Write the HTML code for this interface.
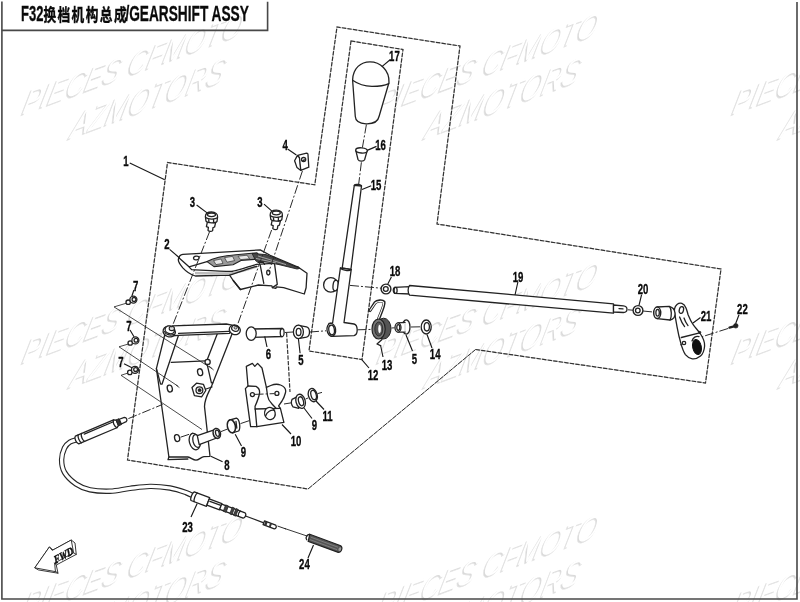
<!DOCTYPE html>
<html lang="zh">
<head>
<meta charset="utf-8">
<title>F32 GEARSHIFT ASSY</title>
<style>
html,body{margin:0;padding:0;background:#fff;}
body{width:800px;height:602px;overflow:hidden;font-family:"Liberation Sans","Noto Sans CJK SC",sans-serif;}
svg{display:block;filter:blur(0.45px);}
.o{fill:none;stroke:#222;stroke-width:1.3;stroke-linejoin:round;stroke-linecap:round;}
.w{fill:#fff;stroke:#222;stroke-width:1.3;stroke-linejoin:round;stroke-linecap:round;}
.t{fill:none;stroke:#2a2a2a;stroke-width:0.85;}
.d{fill:none;stroke:#333;stroke-width:1.2;stroke-dasharray:4.3 1.3;}
.du{fill:none;stroke:#c4c4c4;stroke-width:1;}
.c{fill:none;stroke:#2a2a2a;stroke-width:1;stroke-dasharray:9 2 2 2;}
.l{fill:none;stroke:#1a1a1a;stroke-width:1.15;}
.k{fill:#222;stroke:#222;stroke-width:0.6;}
.n text{font-family:"Liberation Sans",sans-serif;font-weight:bold;font-size:15.5px;fill:#0a0a0a;text-anchor:middle;stroke:#0a0a0a;stroke-width:0.35;}
.wm text{font-family:"Liberation Sans",sans-serif;font-style:italic;fill:#fff;}
.wm text.s{fill:#dadada;stroke:#e6e6e6;stroke-width:0.6;}
</style>
</head>
<body>
<svg width="800" height="602" viewBox="0 0 800 602">
<rect x="0" y="0" width="800" height="602" fill="#fff"/>

<!-- watermarks -->
<g class="wm" id="wm">
<g transform="translate(20,116) skewY(-20) skewX(-16) scale(0.867,1)" style="font-size:30.7px"><text class="s">PIECES CFMOTO</text><text x="1.4" y="-1">PIECES CFMOTO</text></g>
<g transform="translate(68,140) skewY(-20.5) skewX(-16) scale(0.825,1)" style="font-size:33px"><text class="s">AZMOTORS</text><text x="1.4" y="-1">AZMOTORS</text></g>
<g transform="translate(375,116) skewY(-20) skewX(-16) scale(0.867,1)" style="font-size:30.7px"><text class="s">PIECES CFMOTO</text><text x="1.4" y="-1">PIECES CFMOTO</text></g>
<g transform="translate(423,140) skewY(-20.5) skewX(-16) scale(0.825,1)" style="font-size:33px"><text class="s">AZMOTORS</text><text x="1.4" y="-1">AZMOTORS</text></g>
<g transform="translate(730,116) skewY(-20) skewX(-16) scale(0.867,1)" style="font-size:30.7px"><text class="s">PIECES CFMOTO</text><text x="1.4" y="-1">PIECES CFMOTO</text></g>
<g transform="translate(778,140) skewY(-20.5) skewX(-16) scale(0.825,1)" style="font-size:33px"><text class="s">AZMOTORS</text><text x="1.4" y="-1">AZMOTORS</text></g>
<g transform="translate(20,365) skewY(-20) skewX(-16) scale(0.867,1)" style="font-size:30.7px"><text class="s">PIECES CFMOTO</text><text x="1.4" y="-1">PIECES CFMOTO</text></g>
<g transform="translate(68,389) skewY(-20.5) skewX(-16) scale(0.825,1)" style="font-size:33px"><text class="s">AZMOTORS</text><text x="1.4" y="-1">AZMOTORS</text></g>
<g transform="translate(375,365) skewY(-20) skewX(-16) scale(0.867,1)" style="font-size:30.7px"><text class="s">PIECES CFMOTO</text><text x="1.4" y="-1">PIECES CFMOTO</text></g>
<g transform="translate(423,389) skewY(-20.5) skewX(-16) scale(0.825,1)" style="font-size:33px"><text class="s">AZMOTORS</text><text x="1.4" y="-1">AZMOTORS</text></g>
<g transform="translate(730,365) skewY(-20) skewX(-16) scale(0.867,1)" style="font-size:30.7px"><text class="s">PIECES CFMOTO</text><text x="1.4" y="-1">PIECES CFMOTO</text></g>
<g transform="translate(778,389) skewY(-20.5) skewX(-16) scale(0.825,1)" style="font-size:33px"><text class="s">AZMOTORS</text><text x="1.4" y="-1">AZMOTORS</text></g>
<g transform="translate(20,618) skewY(-20) skewX(-16) scale(0.867,1)" style="font-size:30.7px"><text class="s">PIECES CFMOTO</text><text x="1.4" y="-1">PIECES CFMOTO</text></g>
<g transform="translate(68,642) skewY(-20.5) skewX(-16) scale(0.825,1)" style="font-size:33px"><text class="s">AZMOTORS</text><text x="1.4" y="-1">AZMOTORS</text></g>
<g transform="translate(375,618) skewY(-20) skewX(-16) scale(0.867,1)" style="font-size:30.7px"><text class="s">PIECES CFMOTO</text><text x="1.4" y="-1">PIECES CFMOTO</text></g>
<g transform="translate(423,642) skewY(-20.5) skewX(-16) scale(0.825,1)" style="font-size:33px"><text class="s">AZMOTORS</text><text x="1.4" y="-1">AZMOTORS</text></g>
<g transform="translate(730,618) skewY(-20) skewX(-16) scale(0.867,1)" style="font-size:30.7px"><text class="s">PIECES CFMOTO</text><text x="1.4" y="-1">PIECES CFMOTO</text></g>
<g transform="translate(778,642) skewY(-20.5) skewX(-16) scale(0.825,1)" style="font-size:33px"><text class="s">AZMOTORS</text><text x="1.4" y="-1">AZMOTORS</text></g>
</g>

<!-- frame -->
<g id="frame" fill="none" stroke="#484848" stroke-width="1.6">
<path d="M1.9 1.5V599H797V2"/>
<path d="M1.9 30.4H267.6V1.7"/>
</g>

<!-- title -->
<g id="title" fill="#0a0a0a" font-weight="bold" stroke="#0a0a0a" stroke-width="0.3">
<text x="21" y="21.4" font-size="22.5" textLength="22.4" lengthAdjust="spacingAndGlyphs" font-family="Liberation Sans, sans-serif">F32</text>
<text transform="translate(43.4,20.8) scale(0.72,1)" font-size="17.6" letter-spacing="2" stroke="#0a0a0a" stroke-width="0.4" font-family="Noto Sans CJK SC, sans-serif">换档机构总成</text>
<text x="125.4" y="21.4" font-size="22.5" textLength="123.4" lengthAdjust="spacingAndGlyphs" font-family="Liberation Sans, sans-serif">/GEARSHIFT ASSY</text>
</g>

<!-- dashed group boundaries -->
<g id="bounds">
<path class="du" d="M475.6 349.5L705.5 383L721 269L437 224L460 46L337 27L314.8 184.8L167.5 162.5L127.5 460L308 489L475.6 349.5M351 41L403 49.5L362 359.6L309 351Z"/>
<path class="d" d="M475.6 349.5L705.5 383L721 269L437 224L460 46L337 27L314.8 184.8L167.5 162.5L127.5 460L308 489"/>
<path class="d" style="stroke-dasharray:5.2 0.9;stroke-width:1" d="M308 489L475.6 349.5"/>
<path class="d" d="M351 41L403 49.5L362 359.6L309 351Z"/>
</g>

<!-- PARTS -->
<g id="parts">

<!-- knob 17 -->
<path class="w" d="M352.6 80C353 68 361 61.8 370 61.8C380 61.8 389.5 70 389 82.5L379.2 116C378 122 372 124 366 123.8C360 123.5 355.5 121 355.3 116.5Z"/>
<path class="o" d="M352.6 80.2C358 84 366 86.2 372 86.4C379 86.4 385 85.4 388.8 83.6"/>
<path class="c" d="M366.4 124.6L362.4 147.7M361.4 162.3L358.7 184"/>
<!-- cap 16 -->
<path class="w" d="M355.8 150.3L358 159.5C359 161.6 363.6 161.8 364.6 159.8L367.2 150.6Z"/>
<ellipse class="w" cx="361.5" cy="150.4" rx="5.8" ry="2.6" transform="rotate(4 361.5 150.4)"/>
<!-- rod 15 -->
<path class="w" d="M354.3 185.3L361.5 186L350.9 269.5L342.2 268Z"/>
<path class="o" d="M354.3 185.3C355 183.6 361 184.2 361.5 186"/>
<!-- lever 12 -->
<circle class="w" cx="330.8" cy="284.9" r="7.2"/>
<ellipse class="w" cx="335.6" cy="285.6" rx="2.6" ry="5.2" transform="rotate(6 335.6 285.6)"/>
<path class="w" d="M340.4 268L351.2 269.6L344 322.5L354 324C358 325 358.5 334.5 354 335.6L331.3 336.4L329 323.4L332.6 323Z"/>
<path class="o" d="M340.4 268C342 270.5 349.5 271.5 351.2 269.6"/>
<ellipse class="w" cx="331.3" cy="329.8" rx="4.3" ry="6.5" transform="rotate(-8 331.3 329.8)"/>
<ellipse class="o" cx="331.6" cy="330" rx="2.8" ry="4.8" transform="rotate(-8 331.6 330)"/>
<path class="c" d="M350 285.4L381 288.2"/>
<!-- nut 18 -->
<circle class="w" cx="386" cy="289" r="4.9" style="stroke-width:1.4"/>
<circle class="o" cx="385.8" cy="289" r="2.4"/>
<!-- rod 19 -->
<path class="w" d="M394.5 287.4L410 286.6L410 294L394.5 293.4C392.8 292 392.8 288.6 394.5 287.4Z"/>
<ellipse class="o" cx="395.6" cy="290.4" rx="1.5" ry="3" />
<path class="w" d="M409.6 285.5L613.5 303.8L613.5 313.2L409.6 295.2C407.6 293 407.6 287.6 409.6 285.5Z"/>
<path class="w" d="M613.5 305L623.4 305.8C625.4 306 627 307.6 627 309.2C627 311 625.4 312.4 623.4 312.5L613.5 312Z"/>
<path class="o" d="M619 308.6L623 308.9"/>
<path class="c" d="M628 309.8L633 310.2M643 311L653 312"/>
<!-- nut 20 -->
<circle class="w" cx="638" cy="310.5" r="4.9" style="stroke-width:1.4"/>
<circle class="o" cx="637.8" cy="310.5" r="2.3"/>

<!-- spring 13 -->
<path class="o" style="stroke-width:3.2" d="M370 310.5L375 302.8C377 300.6 382.5 300.2 384 302C385 304 381 313 378.5 319"/>
<path style="fill:none;stroke:#fff;stroke-width:1.1;stroke-linecap:round" d="M370.3 310.2L375.3 303C377 301.2 382 300.8 383.6 302.4C384.4 304 380.6 313 378.2 319"/>
<ellipse cx="383.6" cy="328.6" rx="7.4" ry="10.4" fill="#555" stroke="#222" stroke-width="1"/>
<ellipse cx="378.6" cy="329" rx="6.6" ry="10" fill="#777" stroke="#222" stroke-width="1.2"/>
<ellipse cx="378.8" cy="329" rx="4" ry="7" fill="#555" stroke="#222" stroke-width="0.8"/>
<ellipse cx="379.6" cy="329" rx="1.8" ry="4.4" fill="#fff" stroke="#333" stroke-width="0.6"/>
<path class="o" d="M382 339.5L377 344L380.6 345.6"/>
<path class="c" d="M357.5 329.8L372 329.4M391.5 328L394.5 327.8M411 327L421 326.8"/>
<!-- bushing 5 right -->
<ellipse class="w" cx="406.2" cy="327" rx="3.8" ry="7.2"/>
<path class="w" d="M398 322.9L405 322.3L405 332.2L398 332.1Z"/>
<path d="M405 322.9L405 331.6" stroke="#fff" stroke-width="1.6" fill="none"/>
<ellipse class="w" cx="398" cy="327.5" rx="3" ry="4.6"/>
<ellipse class="o" cx="398.3" cy="327.5" rx="1.5" ry="2.8"/>
<!-- washer 14 -->
<ellipse class="w" cx="426.2" cy="327" rx="5" ry="7"/>
<ellipse class="o" cx="426.8" cy="326.8" rx="2.6" ry="4.2"/>
<!-- pin 6 -->
<path class="w" d="M252 329L282.8 328.5C284.6 329.5 284.6 335.5 282.8 336.5L252 337.4Z"/>
<path class="o" d="M281.4 328.5C279.8 330 279.8 335.4 281.4 336.6"/>
<ellipse class="w" cx="251.2" cy="333.6" rx="5" ry="6.7"/>
<path class="c" d="M285 332.5L293 332M310 332L326 330.8"/>
<path class="d" d="M286.6 333L290 392"/>
<!-- bushing 5 left -->
<path class="w" d="M298.4 325.3L306.5 326.8C310.5 328 310.5 336 306.5 337.2L298.4 338.6Z"/>
<ellipse class="w" cx="298.4" cy="331.9" rx="5" ry="6.7"/>
<ellipse class="o" cx="298.6" cy="331.9" rx="2.4" ry="3.6"/>
<!-- bracket 8 -->
<path class="w" d="M165.2 333L156.4 368.7L160.6 384.2L162 384.2L179.6 332"/>
<path class="w" d="M218 332L206.5 361.6L211.4 382.8L212.9 382.8L232.8 332"/>
<path class="o" d="M171.2 362.3L205.8 360.9"/>
<path class="o" d="M156.4 368.7L168.9 457L187.9 457C191 457.5 193 460.2 196 460.2C199 460.2 201 457 204 456.6L210 456.3L204.5 406.6C204.6 398 209 392 211.6 386L212.9 382.8"/>
<path class="o" d="M168.9 457L168 459.6L187.9 459"/>
<circle class="w" cx="207.6" cy="361.9" r="2.6"/>
<ellipse class="o" cx="200.1" cy="372.2" rx="2.5" ry="3.5" transform="rotate(-15 200.1 372.2)"/>
<ellipse class="o" cx="169.8" cy="388.6" rx="2.5" ry="3.5" transform="rotate(-15 169.8 388.6)"/>
<ellipse class="o" cx="177.1" cy="438.1" rx="2.5" ry="3.5" transform="rotate(-15 177.1 438.1)"/>
<path class="w" d="M192 387.5L196.5 383.2L203.5 384.4L205.8 390.5L201.6 396.8L194.4 395.6Z"/>
<circle class="o" cx="199.4" cy="390.2" r="3.4"/>
<circle class="k" cx="199.6" cy="390.2" r="1.6"/>
<path class="o" d="M206 389L212 387"/>
<!-- shaft on bracket -->
<ellipse class="w" cx="194.6" cy="441.6" rx="5.2" ry="8.4" transform="rotate(-15 194.6 441.6)"/>
<ellipse class="w" cx="196.6" cy="441" rx="3.6" ry="6.6" transform="rotate(-15 196.6 441)"/>
<path class="w" d="M197.3 435.6L216.3 429.2L218 437.5L199.2 444.6Z"/>
<ellipse class="w" cx="216.8" cy="433.4" rx="3.6" ry="5" transform="rotate(-15 216.8 433.4)" style="stroke-width:1.6"/>
<ellipse class="o" cx="217.4" cy="433.3" rx="1.8" ry="3.2" transform="rotate(-15 217.4 433.3)"/>
<path class="c" d="M180.5 437.2L193 433M221 431.6L227.5 429M240.5 423.6L250 420.4"/>
<!-- bushing 9 left -->
<path class="w" d="M230 420L236.4 418.2C239.8 419.4 240.8 428.6 238.6 431L232.4 432.8Z"/>
<ellipse class="w" cx="231.4" cy="426.3" rx="4" ry="6.6" transform="rotate(-12 231.4 426.3)" style="stroke-width:1.6"/>
<path class="o" d="M236 421.5L236.8 428"/>
<!-- link bar -->
<path class="w" d="M172.6 325.8L226.3 324L232 325.2L229.6 333.4L178.2 335.4L170 336Z"/>
<path class="o" d="M178.6 333.4L229 331.4"/>
<ellipse class="w" cx="169.2" cy="331.6" rx="6.2" ry="5.2" transform="rotate(20 169.2 331.6)"/>
<ellipse class="w" cx="169.8" cy="329.8" rx="4.8" ry="3.8" transform="rotate(20 169.8 329.8)"/>
<path class="o" d="M164.6 331.6C165.6 334.6 170 336 174 334.4"/>
<ellipse cx="171.8" cy="328.4" rx="2.6" ry="2.2" fill="#ddd" stroke="#222" stroke-width="1.1"/>
<ellipse class="w" cx="234.8" cy="329.8" rx="5.6" ry="4.8" transform="rotate(20 234.8 329.8)"/>
<ellipse class="w" cx="235.2" cy="328.4" rx="3.6" ry="2.8" transform="rotate(20 235.2 328.4)"/>
<ellipse cx="235.6" cy="327.8" rx="1.6" ry="1.3" fill="#ccc" stroke="#222" stroke-width="0.8"/>
<!-- part 10 -->
<path class="w" d="M246.3 366.3L252.4 363.4L254.8 366.4L257.6 363.4L262 368L266.4 387.3L270.8 385.5C274 384.2 278 384 280.5 385C284.5 386.6 286.4 389.4 285.4 393C284.6 396 283.6 398.6 282 401L278.6 405.8L280.4 408.3L283.9 422.3L256.8 426.6L250.6 426.6L245.4 388.6L248 386Z"/>
<path class="o" d="M248 386L256 386.4C259 388 260 391 259.4 394C258.6 398 257 402 255 406.5L256.8 426.6"/>
<path class="o" d="M255 409L280.4 408.3"/>
<path class="o" d="M266.4 387.3L267.6 396C268 399 270 402 272 404L276 408.3"/>
<ellipse class="w" cx="269.9" cy="413.5" rx="5.3" ry="6.2" transform="rotate(-15 269.9 413.5)"/>
<path class="o" d="M265.6 416C267 412 271 409.4 274.6 410.4"/>
<circle class="o" cx="252.4" cy="394.6" r="2"/>
<circle class="o" cx="276.9" cy="393.4" r="2"/>
<path class="c" d="M254.6 394.4L274.6 393.6"/>
<path class="c" d="M284 404L294 402.4M305.6 399L308 398M317.6 393.6L322 392.4"/>
<!-- bushing 9 right -->
<path class="w" d="M292 399.4C291 401.6 291.6 405 293 406.8L298.8 408.4L298 396.4Z"/>
<ellipse class="w" cx="300.6" cy="401.3" rx="4.6" ry="7.2" transform="rotate(-15 300.6 401.3)"/>
<ellipse class="o" cx="301" cy="401.3" rx="2.4" ry="4.6" transform="rotate(-15 301 401.3)"/>
<!-- part 11 -->
<ellipse class="w" cx="312.8" cy="395.1" rx="4.4" ry="6.8" transform="rotate(-15 312.8 395.1)"/>
<ellipse class="o" cx="313.6" cy="395" rx="2.6" ry="4.8" transform="rotate(-15 313.6 395)"/>
<!-- plate 2 -->
<path class="w" d="M178.3 259.8C178.6 256.6 180.4 254.8 182.8 254.4L260.2 249.9L270.1 255.3L298 267L307 273.3L306.1 287.7L304.3 294L283.6 287.7L276.4 286.8L275.8 288.4L272.4 287.6L271.9 285.9L258.4 285L240.4 289.5L233.2 280.5L229.6 275.1L195.4 276C190 274.4 185.6 271 182.8 267.9C180.4 265 178.4 262.4 178.3 259.8Z"/>
<path class="o" d="M179.4 258.2L189 266.8L207 261.6M189 266.8C190 268 191 269 191.8 269.7C205 270.4 220 271.4 231.4 271.5C240 270 250 266 256.6 264.3L272.8 263.4C282 264 292 266 298 267"/>
<path style="fill:none;stroke:#bbb;stroke-width:2.4" d="M195 273C210 273.4 222 273.6 231 273.4C240 272 250 268.6 257 266.6"/>
<path class="o" d="M229.6 275.1C240 272 250 268 257 266.4M233.2 280.5L240.4 289.5"/>
<path class="o" d="M260.2 265.2L263.8 283.4M274.6 264.4L277.3 284.4L272.4 287.6"/>
<ellipse class="o" cx="268.3" cy="272.6" rx="1.6" ry="2.4"/>
<ellipse class="o" cx="196.3" cy="258" rx="2.8" ry="1.8" transform="rotate(-8 196.3 258)"/>
<path d="M207 261.6C214 257.6 224 255.8 236 254.8L257 252.8L262 258.8L241 260.4L233 264.8L214 266.6Z" fill="#9a9a9a" stroke="#222" stroke-width="1.1" stroke-linejoin="round"/>
<path d="M213.6 260.6L221 259L223 263.4L216 264.6Z" fill="#e8e8e8" stroke="#333" stroke-width="0.7"/>
<path d="M224.6 257.6L232.6 256.4L234.6 260.6L227 262.2Z" fill="#e8e8e8" stroke="#333" stroke-width="0.7"/>
<path d="M238 256.2L247 255.2L249.6 258.8L240.6 259.6Z" fill="#e8e8e8" stroke="#333" stroke-width="0.7"/>
<path d="M252 253.4L266 254.6L300 268.4L297 269L270 262.4L256 261.2Z" fill="#4a4a4a" stroke="#222" stroke-width="0.9" stroke-linejoin="round"/>
<path class="t" style="stroke:#ddd;stroke-width:0.6" d="M258 256L286 264.6M256 258.4L276 263"/>
<path class="o" d="M258 262.4L263 262.2L264.6 264.4"/>
<!-- bolts 3 -->
<g id="b3a">
<path class="w" d="M207.4 222L206.4 226.6L208.4 227.4L208 230.4C209 231.6 211.6 231.8 212.6 230.6L213 227.6L214.6 227L215.6 222.6Z"/>
<path class="w" d="M205.4 216.6C205.4 213.6 208 212 211.6 212C215.4 212 217.8 214 217.6 217L217 221.4C216 223.4 207.4 223.4 206 221.2Z"/>
<path class="o" d="M205.6 217.6C208 219.6 215.4 219.6 217.4 217.8M208.6 219L209 222.4M213.6 219.2L213.6 222.6"/>
<ellipse class="o" cx="211.5" cy="214.8" rx="4" ry="1.8"/>
</g>
<use href="#b3a" x="64.8" y="-1.8"/>
<path class="c" d="M209.6 231.6L171.6 328M271.6 230L236 329"/>
<!-- clip 4 -->
<path class="w" d="M297.3 155.6L294.6 160.8L297 167.6L300.8 170.4L300 158Z"/>
<path class="w" d="M297.6 155.4L306.6 153.2C307.6 153.2 308 153.8 308 154.6L308.8 167.2L300.8 170.4L299.4 157.4Z"/>
<circle class="o" cx="303.6" cy="159.6" r="2.1"/>
<path class="o" d="M302.6 161.2C303.6 160 304.8 159.4 305.4 160.2"/>
<path class="c" d="M302.4 171L268.8 272"/>
<!-- bolts 7 -->
<g id="b7a">
<circle class="w" cx="128.2" cy="302.2" r="2.2"/>
<circle class="w" cx="133.4" cy="299.6" r="3.5"/>
<circle class="o" cx="134" cy="299.4" r="1.9"/>
</g>
<use href="#b7a" x="2" y="40.8"/>
<use href="#b7a" x="1.6" y="70.2"/>
<path class="t" d="M126.4 303.2L114 306.9L212 368.6M128.4 344L119 346.8L178 386.2M128 373L121 375.3L202 429.5"/>
<path class="t" d="M176 385L179.4 387.6M209 366L213.6 370"/>
<!-- cable 23 -->
<path d="M77.5 439.5C76.2 439.9 72.2 440.6 70 442C67.8 443.4 65.9 445.0 64.5 448C63.1 451.0 61.6 455.7 61.6 459.8C61.6 463.9 62.2 468.5 64.6 472.5C67.0 476.5 71.8 481.1 76 484C80.2 486.9 84.3 488.6 90 489.8C95.7 491.0 103.3 491.4 110 491.2C116.7 491.0 123.3 489.2 130 488.4C136.7 487.6 143.3 486.5 150 486.4C156.7 486.3 164.0 487.0 170 488C176.0 489.0 182.1 491.2 186 492.6C189.9 494.0 192.2 495.6 193.5 496.2" fill="none" stroke="#262626" stroke-width="5.4"/>
<path d="M77.5 439.5C76.2 439.9 72.2 440.6 70 442C67.8 443.4 65.9 445.0 64.5 448C63.1 451.0 61.6 455.7 61.6 459.8C61.6 463.9 62.2 468.5 64.6 472.5C67.0 476.5 71.8 481.1 76 484C80.2 486.9 84.3 488.6 90 489.8C95.7 491.0 103.3 491.4 110 491.2C116.7 491.0 123.3 489.2 130 488.4C136.7 487.6 143.3 486.5 150 486.4C156.7 486.3 164.0 487.0 170 488C176.0 489.0 182.1 491.2 186 492.6C189.9 494.0 192.2 495.6 193.5 496.2" fill="none" stroke="#fff" stroke-width="3.2"/>
<g transform="translate(77,440) rotate(-23)">
<path class="w" d="M0 -4.300L41.500 -4.300L44 -2.800L44 2.800L41.500 4.300L0 4.300C-2 3 -2 -3 0 -4.300Z"/>
<path class="o" d="M3 -4.300C1.600 -2 1.600 2 3 4.300M6.500 -4.300C5 -2 5 2 6.500 4.300M9 -2.600L40 -2.600" />
<path class="w" d="M41.500 -4.300C39.500 -2 39.500 2 41.500 4.300"/>
<rect x="43.600" y="-3.200" width="3.400" height="6.400" fill="#333" stroke="#222" stroke-width="0.800"/>
<path class="w" d="M47 -2.600L52.500 -2.400C54.500 -1.400 54.500 1.400 52.500 2.400L47 2.600Z"/>
</g>
<path class="c" d="M128.4 418.6L162.6 404.4"/>
<g transform="translate(192.600,496.200) rotate(20.500)">
<path class="w" d="M0 -4.600L16.500 -4.600L16.500 4.600L0 4.600C-1.600 3 -1.600 -3 0 -4.600Z"/>
<path class="o" d="M3.400 -4.600C2 -2.600 2 2.600 3.400 4.600"/>
<path class="w" d="M16.500 -3.300L30 -3.300L30 3.300L16.500 3.300Z"/>
<path class="o" d="M18 -1.200L29 -1.200"/>
<path class="w" d="M30 -2.800L55 -2.800C57 -1.800 57 1.800 55 2.800L30 2.800Z"/>
<rect x="34" y="-3.400" width="3" height="6.800" fill="#444" stroke="#222" stroke-width="0.700"/>
<rect x="41" y="-3.600" width="2.400" height="7.200" fill="#444" stroke="#222" stroke-width="0.700"/>
<rect x="45" y="-3.600" width="2.400" height="7.200" fill="#444" stroke="#222" stroke-width="0.700"/>
<path class="o" d="M50 -2.800C49 -1.400 49 1.400 50 2.800"/>
<path class="o" d="M56.500 0L76 0" style="stroke-width:1.300"/>
<path class="w" d="M76 -2L88 -2C89.600 -1 89.600 1 88 2L76 2Z"/>
<rect x="77" y="-2" width="2.400" height="4" fill="#333"/>
<rect x="82" y="-2" width="2" height="4" fill="#333"/>
</g>
<path class="c" d="M277.5 526L286 529"/><path class="o" style="stroke-width:0.9" d="M285 528.6L307 536"/>
<!-- spring 24 -->
<g transform="translate(308.500,537.600) rotate(20.300)">
<path d="M0 -3.600L33 -3.600C36 -2.600 36 2.600 33 3.600L1 3.600Z" fill="#555" stroke="#222" stroke-width="1.200"/>
<path d="M2 -1.200L31 -1.200M2 1.400L31 1.400" stroke="#888" stroke-width="0.700" fill="none"/>
<ellipse cx="33.400" cy="0" rx="1.300" ry="2" fill="#999"/>
<path class="o" d="M0.500 -3.400C-2.500 -3 -3.400 1 -1 2.600"/>
</g>
<!-- part 21 -->
<path class="w" d="M675 314.800C674 311 674.400 306.600 677 304.400C680 302 684 302.800 686 307.900C687 310.400 687.400 312.400 688.100 314.800C689.600 318.600 691 321.600 693 324.400C695.400 327.800 698.400 330.800 700.500 334C703.600 338.600 705 341.600 704.600 346C704.200 351 703 354 700.500 356C698 358 695 359.200 692.300 358.800C689.600 358.400 687.200 356.800 685.400 354.600C683 351 681.600 346 680.600 342.300C679 337 678 332 677.100 327.100C676.400 323 675.600 319 675 314.800Z"/>
<path class="w" d="M657 307L669 306.400C672 307 674.600 309.600 675 313C675.400 316.400 673.600 319.400 670 320L657 318.600Z"/>
<ellipse class="w" cx="657.200" cy="312.800" rx="3.500" ry="5.700" style="stroke-width:1.500"/>
<ellipse class="o" cx="657.600" cy="312.800" rx="1.700" ry="3.400"/>
<path class="o" d="M669.600 306.500C671.600 309 672 317 670 320"/>
<ellipse class="o" cx="681.400" cy="310" rx="2.100" ry="3.400" transform="rotate(15 681.400 310)"/>
<path class="o" d="M681.300 337.500L699.600 332.800"/>
<circle class="k" cx="699.800" cy="332.400" r="1.100"/>
<path class="o" d="M679.600 317C681 321 682.600 324 684.600 326.600M684 318C685 321 686 323 688 325.600"/>
<ellipse cx="697" cy="347" rx="4.300" ry="7.600" transform="rotate(-12 697 347)" fill="#111" stroke="#111" stroke-width="1"/>
<path class="o" d="M692 341C693 337.600 696 335.600 699 336.600"/>
<circle class="w" cx="684" cy="343" r="1.700"/>
<path class="t" d="M680 345L683 343.600"/>
<path class="c" d="M728 328.500L701.900 336.800"/>
<!-- bolt 22 -->
<path class="o" d="M729.400 327.600L734 326.400" style="stroke-width:2.200"/>
<circle class="k" cx="735.800" cy="325.800" r="2.300"/>
<!-- FWD arrow -->
<path class="w" style="stroke-width:0.900" d="M35 567.500L49.400 546.900L53 550L71.250 540L75 543L76.250 554.400L56.250 565L58 573.200L38.750 570Z"/>
<path class="w" style="stroke-width:0.900" d="M35 567.500L49.400 546.900L52.200 550.400L71.250 540L73.600 552.800L54.600 563L55.400 571.250Z"/>
<path class="o" style="stroke-width:0.900" d="M73.600 552.800L76.250 554.400M54.600 563L56.250 565M55.400 571.250L58 573.200"/>
<text transform="translate(55.2,564) rotate(-29) skewX(-12)" font-family="Liberation Serif, serif" font-weight="bold" font-style="italic" font-size="11" textLength="21.5" lengthAdjust="spacingAndGlyphs" fill="#111" stroke="#111" stroke-width="0.45">FWD</text>
</g>

<g id="leaders">
<path class="l" d="M129.75 163.1L164.75 179.75M169.6 249.4L179.6 258M196.6 205L207.1 212.9M264 204.1L271.9 211.1M287.6 149L296.4 155M298.4 338.7L300.1 353.3M406 335L412.5 351M264.7 336.4L267 347M133.9 290L131.9 296M130 330L134 336.8M124 363.8L132 367.8M210.8 456.3L222.6 461.8M235.2 434.2L241.5 446M304 408L312 418.5M282 424.5L291 434M316 401L324 409.5M361.8 359.6L369 368M380.5 345L383 357M427 334.5L432 348M371.2 185.7L362 189.5M376.5 146.4L367.2 150.4M389.8 60L381.9 66.6M391.4 277L387.8 284M518 281.5L515 295M641.6 294.6L639 305.4M700.5 317.5L693 323M739 314.8L735.6 323.7M191 517L197.2 503.4M308 558L313.5 545"/>
</g>
<!-- labels -->
<g class="n" id="labels">
<text transform="translate(126.0,165.6) scale(0.62,1)">1</text>
<text transform="translate(166.9,248.9) scale(0.62,1)">2</text>
<text transform="translate(192.5,206.6) scale(0.62,1)">3</text>
<text transform="translate(260.0,206.6) scale(0.62,1)">3</text>
<text transform="translate(285.1,150.4) scale(0.62,1)">4</text>
<text transform="translate(301.0,364.6) scale(0.62,1)">5</text>
<text transform="translate(414.4,363.6) scale(0.62,1)">5</text>
<text transform="translate(268.5,358.6) scale(0.62,1)">6</text>
<text transform="translate(135.6,290.6) scale(0.62,1)">7</text>
<text transform="translate(129.0,330.6) scale(0.62,1)">7</text>
<text transform="translate(121.0,366.6) scale(0.62,1)">7</text>
<text transform="translate(227.0,469.6) scale(0.62,1)">8</text>
<text transform="translate(243.4,456.8) scale(0.62,1)">9</text>
<text transform="translate(314.5,429.6) scale(0.62,1)">9</text>
<text transform="translate(296.0,445.6) scale(0.62,1)">10</text>
<text transform="translate(327.6,420.6) scale(0.62,1)">11</text>
<text transform="translate(373,379.8) scale(0.62,1)">12</text>
<text transform="translate(387.0,369.6) scale(0.62,1)">13</text>
<text transform="translate(435.2,358.8) scale(0.62,1)">14</text>
<text transform="translate(376.0,190.1) scale(0.62,1)">15</text>
<text transform="translate(380.5,150.1) scale(0.62,1)">16</text>
<text transform="translate(394.4,61.2) scale(0.62,1)">17</text>
<text transform="translate(395.0,276.1) scale(0.62,1)">18</text>
<text transform="translate(518.0,281.6) scale(0.62,1)">19</text>
<text transform="translate(643,293.6) scale(0.62,1)">20</text>
<text transform="translate(706.0,320.6) scale(0.62,1)">21</text>
<text transform="translate(742.4,313.6) scale(0.62,1)">22</text>
<text transform="translate(187.5,531.6) scale(0.62,1)">23</text>
<text transform="translate(304.4,569.2) scale(0.62,1)">24</text>
</g>
</svg>
</body>
</html>
